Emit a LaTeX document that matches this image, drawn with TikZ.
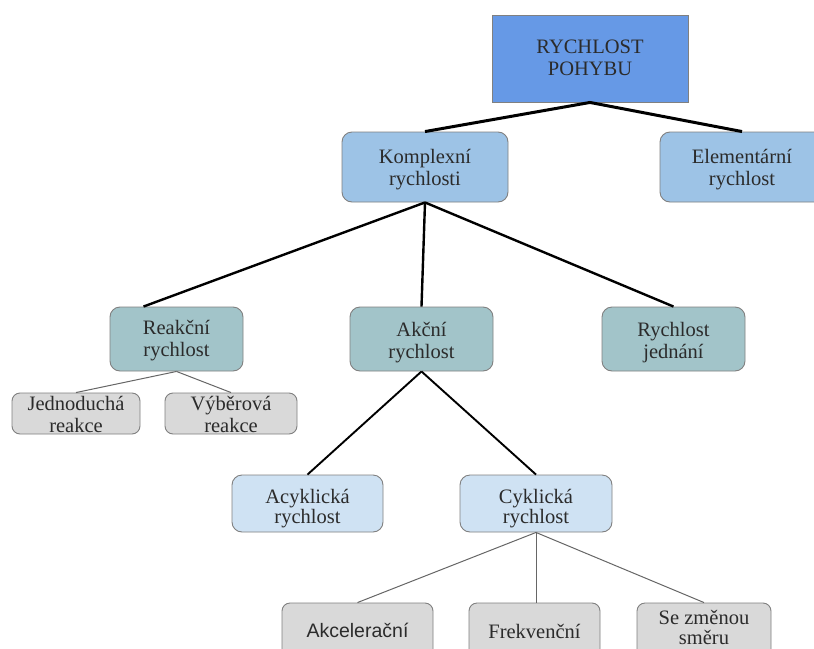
\documentclass[tikz,border=0pt]{standalone}
\usepackage{fontspec}
\setmainfont{Liberation Serif}
\newfontfamily\arialfont{Liberation Sans}
\usetikzlibrary{calc}
\definecolor{topblue}{HTML}{6699E6}
\definecolor{lvltwo}{HTML}{9DC3E6}
\definecolor{lvlthree}{HTML}{A2C4C9}
\definecolor{lvlfour}{HTML}{CFE2F3}
\definecolor{graybox}{HTML}{D9D9D9}
\definecolor{boxline}{HTML}{808080}
\definecolor{txt}{HTML}{2B2B2B}
\tikzset{
  basebox/.style={draw=boxline, line width=0.9pt, inner sep=0pt},
  topbox/.style={basebox, fill=topblue},
  twobox/.style={basebox, fill=lvltwo, rounded corners=10pt},
  threebox/.style={basebox, fill=lvlthree, rounded corners=10pt},
  fourbox/.style={basebox, fill=lvlfour, rounded corners=10pt},
  graybx/.style={basebox, fill=graybox, rounded corners=8pt},
  lbl/.style={inner sep=0pt, align=center, text=txt, font=\fontsize{20.5}{22}\selectfont},
  lbltight/.style={lbl, font=\fontsize{20.5}{20}\selectfont},
  thickline/.style={line width=3pt, black},
  midline/.style={line width=2.4pt, black},
  normline/.style={line width=1.9pt, black},
  thinline/.style={line width=1pt, black!60},
}
\begin{document}
\begin{tikzpicture}[x=1pt,y=-1pt]
\clip (0,0) rectangle (814,648);
\fill[white] (0,0) rectangle (814,648);
% boxes
\node[topbox, minimum width=196pt, minimum height=87pt] (top) at (590,58.5) {};
\node[twobox, minimum width=166pt, minimum height=70pt] (komp) at (425,167) {};
\node[twobox, minimum width=164pt, minimum height=70pt] (elem) at (742,167) {};
\node[threebox, minimum width=133pt, minimum height=64pt] (reak) at (176.5,339) {};
\node[threebox, minimum width=143pt, minimum height=64pt] (akcni) at (421.5,339) {};
\node[threebox, minimum width=143pt, minimum height=64pt] (jedn) at (673.5,339) {};
\node[graybx, minimum width=128pt, minimum height=41pt] (jednod) at (76,413.5) {};
\node[graybx, minimum width=132pt, minimum height=41pt] (vyber) at (231,413.5) {};
\node[fourbox, minimum width=151pt, minimum height=57pt] (acykl) at (307.5,503.5) {};
\node[fourbox, minimum width=152pt, minimum height=57pt] (cykl) at (536,503.5) {};
\node[graybx, minimum width=151pt, minimum height=57pt] (akcel) at (357.5,631.5) {};
\node[graybx, minimum width=131pt, minimum height=57pt] (frek) at (534.5,631.5) {};
\node[graybx, minimum width=134pt, minimum height=57pt] (sezm) at (704,631.5) {};
% texts
\node[lbl] (ttop) at (590,57.5) {RYCHLOST\\POHYBU};
\node[lbl] (tkomp) at (425,170) {Komplexní\\rychlosti};
\node[lbl] (telem) at (742,170) {Elementární\\rychlost};
\node[lbl] (treak) at (176.5,341) {Reakční\\rychlost};
\node[lbl] (takcni) at (421.5,343) {Akční\\rychlost};
\node[lbl] (tjedn) at (673.5,343) {Rychlost\\jednání};
\node[lbl] (tjednod) at (76,414) {Jednoduchá\\reakce};
\node[lbl] (tvyber) at (231,414) {Výběrová\\reakce};
\node[lbltight] (tacykl) at (307.5,509) {Acyklická\\rychlost};
\node[lbltight] (tcykl) at (536,509) {Cyklická\\rychlost};
\node[lbl, font=\arialfont\fontsize{19.5}{22}\selectfont] (takcel) at (357.5,630) {Akcelerační};
\node[lbl] (tfrek) at (534.5,631) {Frekvenční};
\node[lbltight] (tsezm) at (704,627) {Se změnou\\směru};
% connectors
\draw[thickline] (top.south) -- (komp.north);
\draw[thickline] (top.south) -- (elem.north);
\draw[midline] (komp.south) -- ($(reak.north)+(-33,0)$);
\draw[midline] (komp.south) -- (akcni.north);
\draw[midline] (komp.south) -- (jedn.north);
\draw[thinline] (reak.south) -- (jednod.north);
\draw[thinline] (reak.south) -- (vyber.north);
\draw[normline] (akcni.south) -- (acykl.north);
\draw[normline] (akcni.south) -- (cykl.north);
\draw[thinline] (cykl.south) -- (akcel.north);
\draw[thinline] (cykl.south) -- (cykl.south |- frek.north);
\draw[thinline] (cykl.south) -- (sezm.north);
\end{tikzpicture}
\end{document}
